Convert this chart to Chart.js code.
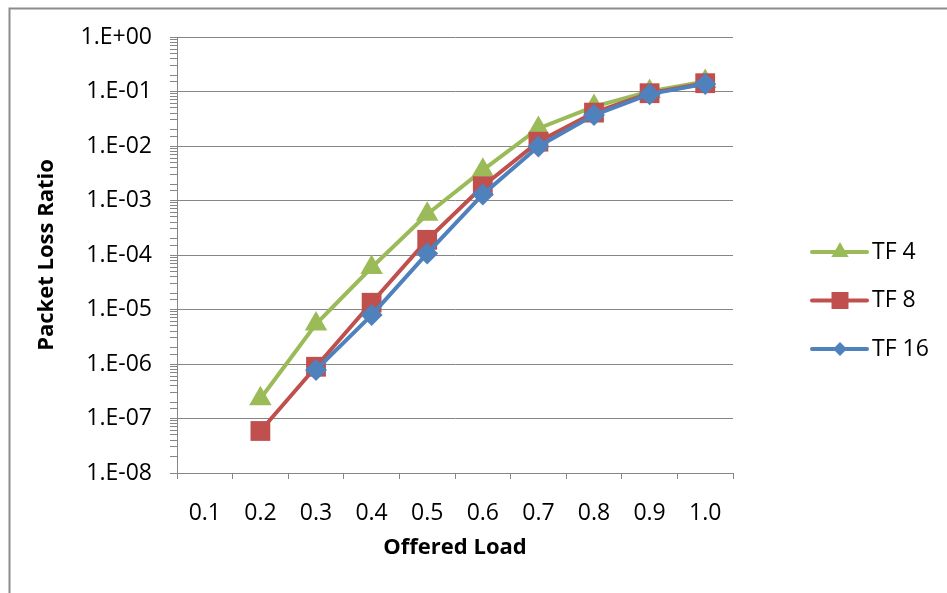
<!DOCTYPE html>
<html>
<head>
<meta charset="utf-8">
<script src="https://cdn.jsdelivr.net/npm/chart.js@4"></script>
<style>
  html, body { margin: 0; padding: 0; background: #ffffff; }
  #wrap { width: 947px; height: 593px; position: relative; }
</style>
</head>
<body>
<div id="wrap"><canvas id="lossChart"></canvas></div>
<script>
// valores
const cargas = ['0.1', '0.2', '0.3', '0.4', '0.5', '0.6', '0.7', '0.8', '0.9', '1.0'];
const tf4 = [null, 2.3e-7, 5.4e-6, 5.9e-5, 5.6e-4, 3.6e-3, 2.1e-2, 5.3e-2, 1.0e-1, 1.53e-1];
const tf8 = [null, 5.9e-8, 8.9e-7, 1.33e-5, 1.9e-4, 1.83e-3, 1.2e-2, 4.1e-2, 9.3e-2, 1.42e-1];
const tf16 = [null, null, 7.8e-7, 7.9e-6, 1.07e-4, 1.29e-3, 9.8e-3, 3.7e-2, 8.95e-2, 1.38e-1];
const yMin = 1e-8;
const yMax = 1;

const cores = {
    verde: '#9BBB59',
    vermelho: '#C0504D',
    azul: '#4F81BD',
    grade: '#868686',
    texto: '#000000'
};

const fonteEixo = { family: "'Open Sans', sans-serif", size: 23 };
const fonteTitulo = { family: "'Open Sans', sans-serif", size: 22, weight: 'bold' };

function ehDecada(v) {
    const e = Math.round(Math.log10(v));
    return Math.abs(v / Math.pow(10, e) - 1) < 1e-6;
}

function rotuloCientifico(v) {
    if (!ehDecada(v)) return '';
    const e = Math.round(Math.log10(v));
    const s = e < 0 ? '-' : '+';
    return '1.E' + s + String(Math.abs(e)).padStart(2, '0');
}

// moldura cinza do gráfico (continua além da janela)
const moldura = {
    id: 'moldura',
    beforeDraw(chart) {
        const ctx = chart.ctx;
        ctx.save();
        ctx.strokeStyle = '#8c8c8c';
        ctx.lineWidth = 2;
        ctx.strokeRect(9.5, 8.5, 2000, 2000);
        ctx.restore();
    }
};

// legenda estilo Excel: linha + marcador
const legendaLinha = {
    id: 'legendaLinha',
    afterDraw(chart) {
        const ctx = chart.ctx;
        const area = chart.chartArea;
        const x0 = area.right + 79;
        const raios = [10, 12, 7];
        chart.data.datasets.forEach((ds, i) => {
            const y = area.top + 215 + i * 48.5;
            ctx.save();
            ctx.strokeStyle = ds.borderColor;
            ctx.fillStyle = ds.borderColor;
            ctx.lineWidth = 4;
            ctx.lineCap = 'round';
            ctx.beginPath();
            ctx.moveTo(x0, y);
            ctx.lineTo(x0 + 55, y);
            ctx.stroke();
            Chart.helpers.drawPoint(ctx, {
                pointStyle: ds.pointStyle,
                radius: raios[i],
                rotation: 0,
                borderWidth: 0
            }, x0 + 28, y);
            ctx.fillStyle = cores.texto;
            ctx.font = "23px 'Open Sans', sans-serif";
            ctx.textBaseline = 'middle';
            ctx.textAlign = 'left';
            ctx.fillText(ds.label, x0 + 60, y);
            ctx.restore();
        });
    }
};

new Chart(document.getElementById('lossChart'), {
    type: 'line',
    data: {
        labels: cargas,
        datasets: [
            {
                label: 'TF 4',
                data: tf4,
                borderColor: cores.verde,
                backgroundColor: cores.verde,
                borderWidth: 4,
                pointStyle: 'triangle',
                pointRadius: 13,
                pointBorderWidth: 0,
                order: 2
            },
            {
                label: 'TF 8',
                data: tf8,
                borderColor: cores.vermelho,
                backgroundColor: cores.vermelho,
                borderWidth: 4,
                pointStyle: 'rect',
                pointRadius: 14,
                pointBorderWidth: 0,
                order: 1
            },
            {
                label: 'TF 16',
                data: tf16,
                borderColor: cores.azul,
                backgroundColor: cores.azul,
                borderWidth: 4,
                pointStyle: 'rectRot',
                pointRadius: 11,
                pointBorderWidth: 0,
                order: 0
            }
        ]
    },
    options: {
        responsive: true,
        maintainAspectRatio: false,
        animation: false,
        layout: { padding: { top: 37, right: 214, bottom: 0, left: 10 } },
        plugins: {
            legend: { display: false },
            tooltip: { enabled: false }
        },
        scales: {
            x: {
                type: 'category',
                offset: true,
                grid: {
                    offset: true,
                    drawOnChartArea: false,
                    tickLength: 6,
                    tickColor: cores.grade
                },
                border: { color: cores.grade, width: 1 },
                ticks: {
                    color: cores.texto,
                    font: fonteEixo,
                    padding: 21,
                    maxRotation: 0,
                    minRotation: 0,
                    autoSkip: false
                },
                title: {
                    display: true,
                    text: 'Offered Load',
                    color: cores.texto,
                    font: fonteTitulo,
                    padding: { top: 0, bottom: 32 }
                },
                afterFit(scale) {
                    scale.height = 120;
                    scale.paddingLeft = 0;
                    scale.paddingRight = 0;
                }
            },
            y: {
                type: 'logarithmic',
                min: yMin,
                max: yMax,
                grid: {
                    color: (c) => (c.tick && ehDecada(c.tick.value)) ? cores.grade : 'rgba(0,0,0,0)',
                    tickColor: cores.grade,
                    tickLength: 7,
                    lineWidth: 1
                },
                border: { color: cores.grade, width: 1 },
                ticks: {
                    color: cores.texto,
                    font: fonteEixo,
                    padding: 18,
                    autoSkip: false,
                    callback: (v) => rotuloCientifico(v)
                },
                title: {
                    display: true,
                    text: 'Packet Loss Ratio',
                    color: cores.texto,
                    font: fonteTitulo,
                    padding: { top: 24, bottom: 0 }
                },
                afterFit(scale) {
                    scale.width = 167;
                    scale.paddingTop = 0;
                    scale.paddingBottom = 0;
                }
            }
        }
    },
    plugins: [moldura, legendaLinha]
});
</script>
</body>
</html>
